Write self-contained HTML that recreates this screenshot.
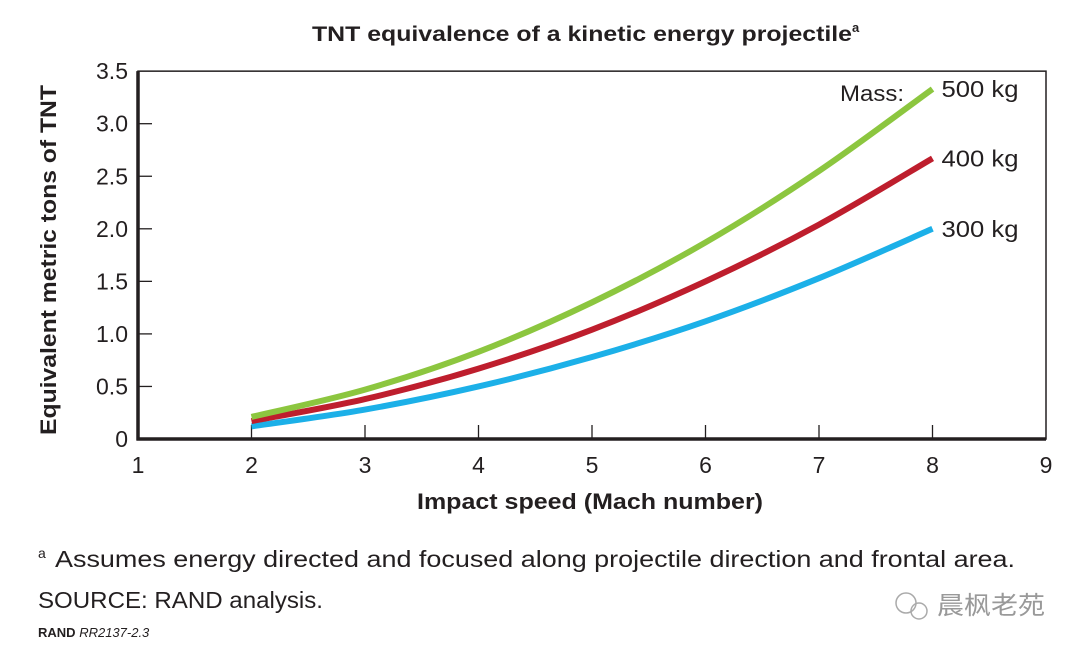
<!DOCTYPE html>
<html><head><meta charset="utf-8"><style>
body{margin:0;background:#fff;width:1080px;height:655px;overflow:hidden;font-family:"Liberation Sans","Noto Sans CJK SC",sans-serif;color:#231f20}
svg text{font-family:"Liberation Sans","Noto Sans CJK SC",sans-serif;fill:#231f20}
</style></head><body>
<svg width="1080" height="655">
<text x="312" y="41" font-size="21" font-weight="bold"><tspan textLength="540" lengthAdjust="spacingAndGlyphs">TNT equivalence of a kinetic energy projectile</tspan><tspan font-size="13" dy="-9">a</tspan></text>
<g id="axes"></g>
<g id="series"></g>
<text transform="translate(56,260) rotate(-90)" text-anchor="middle" font-size="22" font-weight="bold" textLength="350" lengthAdjust="spacingAndGlyphs">Equivalent metric tons of TNT</text>
<text x="417" y="509" font-size="22" font-weight="bold" textLength="346" lengthAdjust="spacingAndGlyphs">Impact speed (Mach number)</text>
<text x="840" y="101" font-size="22" textLength="64" lengthAdjust="spacingAndGlyphs">Mass:</text>
<text x="38" y="567" font-size="23"><tspan font-size="14" dy="-9">a</tspan><tspan x="55" dy="9" textLength="960" lengthAdjust="spacingAndGlyphs">Assumes energy directed and focused along projectile direction and frontal area.</tspan></text>
<text x="38" y="608" font-size="23" textLength="285" lengthAdjust="spacingAndGlyphs">SOURCE: RAND analysis.</text>
<text x="38" y="637" font-size="13"><tspan font-weight="bold">RAND</tspan> <tspan font-style="italic">RR2137-2.3</tspan></text>
<g>
<circle cx="906" cy="603" r="10" fill="none" stroke="#aaa" stroke-width="1.5"/><circle cx="919" cy="611" r="8" fill="none" stroke="#aaa" stroke-width="1.5"/>
<text x="937" y="614" font-size="25" textLength="108" lengthAdjust="spacingAndGlyphs" style="fill:#999">晨枫老苑</text></g>
</svg>
<script>
const xTicks=[1,2,3,4,5,6,7,8,9];
const yTicks=[0,0.5,1,1.5,2,2.5,3,3.5];
const yTickLabels=["0","0.5","1.0","1.5","2.0","2.5","3.0","3.5"];
const speeds=[2,3,4,5,6,7,8];
const mass500=[0.21,0.47,0.83,1.30,1.87,2.55,3.33];
const mass400=[0.17,0.38,0.67,1.04,1.50,2.04,2.67];
const mass300=[0.12,0.28,0.50,0.78,1.12,1.53,2.00];
const seriesNames=["500 kg","400 kg","300 kg"];
const X=v=>138+(v-1)*113.5, Y=v=>439-v*105.1;
const NS="http://www.w3.org/2000/svg";
const ax=document.getElementById('axes'), sg=document.getElementById('series');
function mk(tag,attrs,parent){const e=document.createElementNS(NS,tag);for(const k in attrs)e.setAttribute(k,attrs[k]);parent.appendChild(e);return e;}
let r=mk('rect',{x:X(1),y:Y(3.5),width:X(9)-X(1),height:Y(0)-Y(3.5),fill:'none',stroke:'#231f20','stroke-width':1.5},ax);


let l=mk('line',{x1:X(1),y1:Y(3.5),x2:X(1),y2:Y(0)+1.5,stroke:'#231f20','stroke-width':3.5},ax);


l=mk('line',{x1:X(1)-1.5,y1:Y(0),x2:X(9),y2:Y(0),stroke:'#231f20','stroke-width':3.5},ax);


yTicks.forEach((v,i)=>{
 if(v>0&&v<3.5){const t=mk('line',{x1:X(1),y1:Y(v),x2:X(1)+14,y2:Y(v),stroke:'#231f20','stroke-width':1.3},ax);
 
 }
 const tx=mk('text',{x:128,y:Y(v)+8,'text-anchor':'end','font-size':23},ax);tx.textContent=yTickLabels[i];
 
 
});
xTicks.forEach(v=>{
 if(v>1&&v<9){const t=mk('line',{x1:X(v),y1:Y(0),x2:X(v),y2:Y(0)-14,stroke:'#231f20','stroke-width':1.3},ax);
 
 }
 const tx=mk('text',{x:X(v),y:473,'text-anchor':'middle','font-size':23},ax);tx.textContent=String(v);
 
 
});
function pathD(xs,ys){const p=xs.map((x,i)=>[X(x),Y(ys[i])]);let d=`M${p[0][0]},${p[0][1]}`;
 for(let i=0;i<p.length-1;i++){const p0=p[Math.max(0,i-1)],p1=p[i],p2=p[i+1],p3=p[Math.min(p.length-1,i+2)];
 d+=` C${p1[0]+(p2[0]-p0[0])/6},${p1[1]+(p2[1]-p0[1])/6} ${p2[0]-(p3[0]-p1[0])/6},${p2[1]-(p3[1]-p1[1])/6} ${p2[0]},${p2[1]}`;}return d;}
[[mass300,'#1cb0e8'],[mass400,'#be1e2d'],[mass500,'#8cc63f']].forEach(([ys,c],k)=>{
 const p=mk('path',{d:pathD(speeds,ys),fill:'none',stroke:c,'stroke-width':6},sg);
 
 
 const lab=mk('text',{x:X(speeds[speeds.length-1])+9,y:Y(ys[ys.length-1])+8,'font-size':23,textLength:77,lengthAdjust:'spacingAndGlyphs'},sg);
 lab.textContent=seriesNames[2-k];
 
 
});
</script>
</body></html>
